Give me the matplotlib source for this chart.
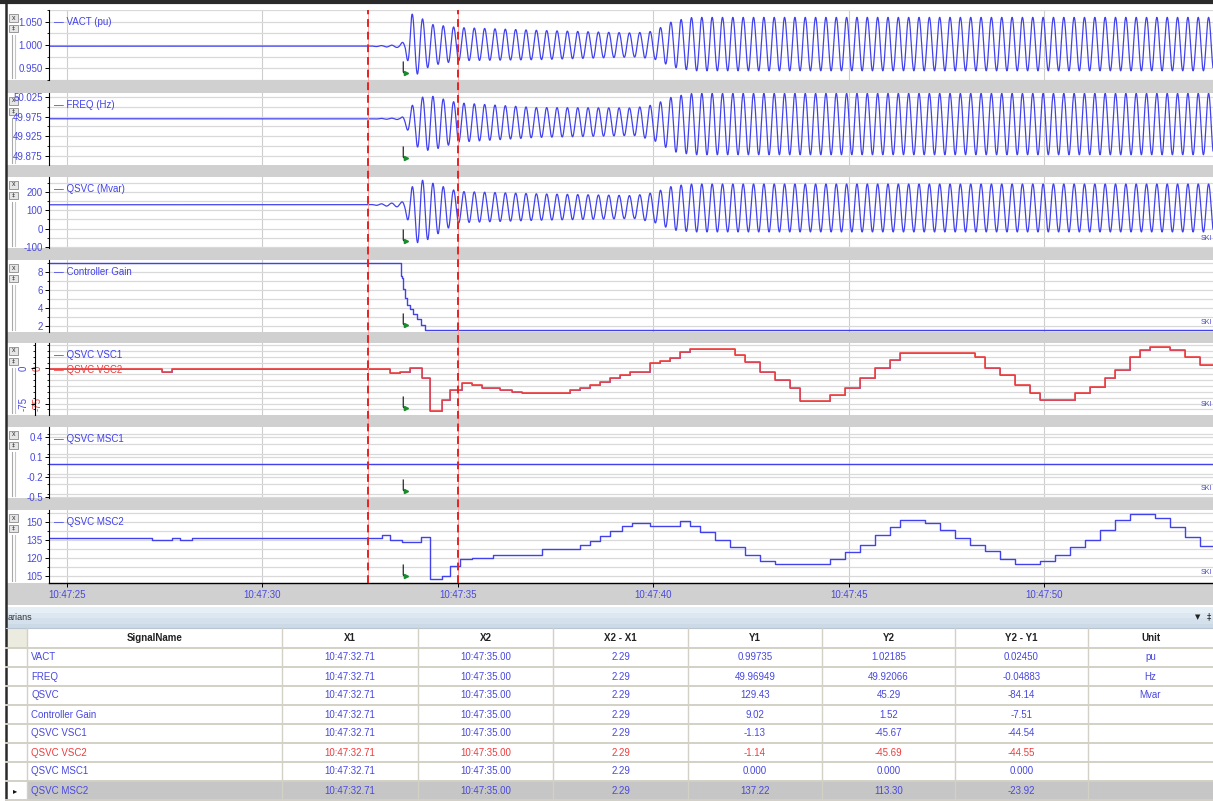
import numpy as np
import matplotlib.pyplot as plt
from matplotlib.patches import Rectangle
from matplotlib.ticker import FixedLocator, FuncFormatter, MultipleLocator

plt.rcParams['font.family'] = ['Liberation Sans Narrow', 'Liberation Sans', 'DejaVu Sans']

W, H = 1213, 801
BLUE = '#4141ee'
RED = '#ee3c3c'
TXT_BLUE = '#4848e0'
GRID = '#d9d9d9'
BAND = '#d0d0d0'

# time axis, seconds after 10:47:00
T_LO, T_HI = 24.54, 54.31
X1_T, X2_T = 32.71, 35.00
TRIGGER_T = 33.60
TIME_TICKS = [25, 30, 35, 40, 45, 50]

# oscillating channels: envelope knots (mid level and half swing)
OSC_PERIOD = 0.2645
OSC_START = 33.50
OSC_T = [24.5, 32.7, 33.50, 33.65, 33.80, 34.00, 34.30, 35.00, 37.00, 39.50, 40.00, 40.50, 41.00, 54.40]
VACT_MID = [0.9974, 0.9974, 0.9974, 0.999, 1.0, 1.0, 1.0, 1.002, 1.0, 1.0, 1.0, 1.002, 1.002, 1.002]
VACT_AMP = [0, 0, 0.003, 0.012, 0.068, 0.062, 0.045, 0.036, 0.032, 0.026, 0.030, 0.050, 0.058, 0.058]
FREQ_MID = [49.9695, 49.9695, 49.9695, 49.965, 49.960, 49.958, 49.958, 49.960, 49.960, 49.962, 49.960, 49.956, 49.956, 49.956]
FREQ_AMP = [0, 0, 0.002, 0.012, 0.040, 0.065, 0.070, 0.050, 0.038, 0.035, 0.045, 0.070, 0.078, 0.078]
QSVC_MID = [129.4, 129.4, 129.4, 120, 100, 90, 100, 117, 117, 117, 115, 112, 112, 112]
QSVC_AMP = [0, 0, 12, 30, 120, 178, 150, 85, 72, 62, 80, 120, 130, 130]

# stepped channels
GAIN_T = [24.5, 33.53, 33.56, 33.60, 33.64, 33.70, 33.77, 33.84, 33.94, 34.05, 34.16, 54.4]
GAIN_V = [9.02, 7.6, 7.4, 6.1, 5.06, 4.27, 3.88, 3.3, 2.7, 2.1, 1.52, 1.52]

VSC_T = [24.5, 27.43, 27.69, 33.26, 33.52, 33.77, 34.07, 34.28, 34.58, 34.80, 35.09, 35.35,
         35.61, 36.07, 36.37, 36.63, 37.86, 38.12, 38.38, 38.63, 38.89, 39.14, 39.40, 39.65,
         39.91, 40.17, 40.42, 40.68, 40.93, 42.08, 42.34, 42.72, 43.11, 43.49, 43.75, 44.51,
         44.90, 45.28, 45.66, 46.05, 46.30, 48.22, 48.48, 48.86, 49.25, 49.63, 49.88, 50.78,
         51.16, 51.55, 51.80, 52.19, 52.44, 52.70, 53.21, 53.59, 53.98, 54.4]
VSC2_V = [-1.14, -8, -1.14, -10, -7, 0, -20, -92, -67, -45.69, -30, -35,
          -41, -46, -50, -52, -46, -41, -35, -28, -21, -14, -8, -7,
          11, 16, 22, 36, 41, 29, 14, -7.5, -25, -42, -70, -57,
          -42, -20, 1, 18, 34, 25, 1, -14, -35, -52, -67, -52,
          -40, -20, -3, 25, 40, 46, 40, 25, 7, 7]
VSC1_V = [-1.13, -8, -1.13, -10, -7, 0, -20, -92, -67, -45.67, -30, -35,
          -41, -46, -50, -52, -46, -41, -35, -28, -21, -14, -8, -7,
          11, 16, 22, 36, 41, 29, 14, -7.5, -25, -42, -70, -57,
          -42, -20, 1, 18, 34, 25, 1, -14, -35, -52, -67, -52,
          -40, -20, -3, 25, 40, 46, 40, 25, 7, 7]

MSC1_T = [24.5, 54.4]
MSC1_V = [0.0, 0.0]

MSC2_T = [24.5, 27.17, 27.69, 27.89, 28.20, 33.05, 33.26, 33.56, 34.05, 34.28, 34.58, 34.80,
          35.05, 35.35, 35.90, 37.14, 37.43, 38.12, 38.38, 38.63, 38.89, 39.19, 39.44, 39.91,
          40.68, 40.93, 41.19, 41.57, 41.96, 42.34, 42.72, 43.11, 44.51, 44.90, 45.28, 45.66,
          46.05, 46.30, 46.94, 47.33, 47.71, 48.09, 48.48, 48.86, 49.25, 49.88, 50.27, 50.65,
          51.04, 51.42, 51.80, 52.19, 52.83, 53.21, 53.59, 53.98, 54.4]
MSC2_V = [137.22, 135.5, 137.22, 135.5, 137.22, 139.1, 135.5, 133.6, 137.4, 102.5, 105.2, 113.30,
          119, 120.4, 122.3, 127.3, 127.8, 131.4, 134.7, 138.3, 142.4, 146.5, 149.3, 146.5,
          150.7, 146.5, 142, 135.5, 129, 122.3, 117.4, 115, 119, 124.8, 131.4, 139.7,
          146.3, 152, 149.6, 143.8, 137.2, 131.4, 125.6, 119, 115, 117.4, 123, 129,
          135.5, 143.8, 152, 157, 153.7, 146.3, 138, 129.8, 129.8]

# cursor table
SIGNALS = ['VACT', 'FREQ', 'QSVC', 'Controller Gain', 'QSVC VSC1', 'QSVC VSC2', 'QSVC MSC1', 'QSVC MSC2']
Y1_TXT = ['0.99735', '49.96949', '129.43', '9.02', '-1.13', '-1.14', '0.000', '137.22']
Y2_TXT = ['1.02185', '49.92066', '45.29', '1.52', '-45.67', '-45.69', '0.000', '113.30']
DY_TXT = ['0.02450', '-0.04883', '-84.14', '-7.51', '-44.54', '-44.55', '0.000', '-23.92']
UNITS = ['pu', 'Hz', 'Mvar', '', '', '', '', '']
HEADERS = ['SignalName', 'X1', 'X2', 'X2 - X1', 'Y1', 'Y2', 'Y2 - Y1', 'Unit']
COL_EDGES = [27, 282, 418, 553, 688, 822, 955, 1088, 1213]

PANELS = [(10, 80), (93, 165), (177, 248), (260, 332), (343, 415), (427, 498), (510, 583)]
PLOT_L, PLOT_R = 49, 1213


def frac(x0, y0, x1, y1):
    return [x0 / W, 1 - y1 / H, (x1 - x0) / W, (y1 - y0) / H]


def clock(v, _=None):
    m, s = divmod(v, 60)
    return f'10:{47 + int(m):02d}:{s:05.2f}' if _ is None else f'10:47:{v:02.0f}'


fig = plt.figure(figsize=(W / 100, H / 100), dpi=100)

# background in pixel units
bg = fig.add_axes([0, 0, 1, 1])
bg.set_xlim(0, W)
bg.set_ylim(H, 0)
bg.axis('off')
bg.set_zorder(0)

for (top, bot), nxt in zip(PANELS, [p[0] for p in PANELS[1:]] + [605]):
    bg.add_patch(Rectangle((6, bot), W, nxt - bot, fc=BAND, ec='none'))
    # panel controls on the left strip
    bg.add_patch(Rectangle((9, top + 4), 9, 8, fc='#e6e6e6', ec='#8a8a8a', lw=0.6))
    bg.text(13.5, top + 8, 'x', fontsize=5, ha='center', va='center', color='#333')
    bg.add_patch(Rectangle((9, top + 15), 9, 7, fc='#e6e6e6', ec='#8a8a8a', lw=0.6))
    bg.text(13.5, top + 18.5, '‡', fontsize=4.5, ha='center', va='center', color='#333',
            family='DejaVu Sans')
    bg.plot([12, 12], [top + 25, bot - 2], color='#a8a8a8', lw=0.8)
    bg.plot([15, 15], [top + 25, bot - 2], color='#c4c4c4', lw=0.8)

bg.plot([0, W], [2, 2], color='#2a2a2a', lw=3)
bg.plot([6, 6], [0, H], color='#2a2a2a', lw=1.8)

# header bar of the cursor table
for k, c in enumerate(['#e6eef6', '#dde7f1', '#d4e0ec', '#ccd9e7']):
    bg.add_patch(Rectangle((6, 607 + k * 5.5), W, 5.6, fc=c, ec='none'))
bg.plot([6, W], [628, 628], color='#b8c4d0', lw=0.8)
bg.text(8, 617, 'arians', fontsize=6.5, va='center', color='#333')
bg.text(1198, 617, '▼', fontsize=5, va='center', ha='center', color='#222', family='DejaVu Sans')
bg.text(1209, 617, '‡', fontsize=6, va='center', ha='center', color='#222', family='DejaVu Sans')

# cursor table
bg.add_patch(Rectangle((6, 628), 21, 20, fc='#ecebdf', ec='none'))
bg.add_patch(Rectangle((27, 781), W - 27, 20, fc='#c6c6c6', ec='none'))
for k in range(9):
    yl = 648 + k * 19
    bg.plot([6, W], [yl, yl], color='#d3d0c6', lw=1.4)
for xe in COL_EDGES[:-1]:
    bg.plot([xe, xe], [628, H], color='#d3d0c6', lw=1.0)
for j, head in enumerate(HEADERS):
    xc = (COL_EDGES[j] + COL_EDGES[j + 1]) / 2
    bg.text(xc, 638, head, fontsize=7, ha='center', va='center', color='#222', weight='bold')
bg.text(15, 790.5, '▸', fontsize=6, ha='center', va='center', color='#111', family='DejaVu Sans')

for i, name in enumerate(SIGNALS):
    yc = 657.5 + i * 19
    col = RED if name == 'QSVC VSC2' else TXT_BLUE
    cells = [clock(X1_T), clock(X2_T), f'{X2_T - X1_T:.2f}', Y1_TXT[i], Y2_TXT[i], DY_TXT[i], UNITS[i]]
    bg.text(31, yc, name, fontsize=7, ha='left', va='center', color=col)
    for j, cell in enumerate(cells, start=1):
        xc = (COL_EDGES[j] + COL_EDGES[j + 1]) / 2
        bg.text(xc, yc, cell, fontsize=7, ha='center', va='center', color=col)

# signals
t = np.arange(T_LO, T_HI, 0.004)
wave = np.sin(2 * np.pi * (t - OSC_START) / OSC_PERIOD)


def osc(mid, amp):
    return np.interp(t, OSC_T, mid) + np.interp(t, OSC_T, amp) * wave


specs = [
    dict(ylim=(0.924, 1.076), ticks=[0.95, 1.0, 1.05], minor=0.025, fmt='{:.3f}'),
    dict(ylim=(49.852, 50.035), ticks=[49.875, 49.925, 49.975, 50.025], minor=0.025, fmt='{:.3f}'),
    dict(ylim=(-105, 280), ticks=[-100, 0, 100, 200], minor=50, fmt='{:.0f}'),
    dict(ylim=(1.30, 9.36), ticks=[2, 4, 6, 8], minor=1, fmt='{:.0f}'),
    dict(ylim=(-99.6, 54.6), ticks=[-75, 0], minor=12.5, fmt='{:.0f}'),
    dict(ylim=(-0.515, 0.55), ticks=[-0.5, -0.2, 0.1, 0.4], minor=0.15, fmt='{:.1f}'),
    dict(ylim=(99.2, 160.3), ticks=[105, 120, 135, 150], minor=7.5, fmt='{:.0f}'),
]

axes = []
for k, ((top, bot), sp) in enumerate(zip(PANELS, specs)):
    ax = fig.add_axes(frac(PLOT_L, top, PLOT_R, bot))
    ax.set_zorder(1)
    ax.set_xlim(T_LO, T_HI)
    ax.set_ylim(*sp['ylim'])
    for side in ('top', 'right', 'bottom'):
        ax.spines[side].set_visible(False)
    ax.spines['left'].set_linewidth(0.8)
    ax.yaxis.set_major_locator(FixedLocator(sp['ticks']))
    ax.yaxis.set_minor_locator(MultipleLocator(sp['minor']))
    ax.yaxis.set_major_formatter(FuncFormatter(lambda v, _, f=sp['fmt']: f.format(v)))
    ax.tick_params(axis='y', which='major', length=3, width=0.7, labelsize=7,
                   labelcolor=TXT_BLUE, pad=1.5)
    ax.tick_params(axis='y', which='minor', length=1.8, width=0.6)
    ax.set_xticks(TIME_TICKS)
    ax.tick_params(axis='x', length=0, labelbottom=False)
    ax.grid(axis='y', which='both', color=GRID, lw=0.9)
    ax.grid(axis='x', which='major', color='#cdcdcd', lw=0.8)
    ax.set_axisbelow(True)
    axes.append(ax)

ax_vact, ax_freq, ax_qsvc, ax_gain, ax_vsc, ax_msc1, ax_msc2 = axes

ax_vact.plot(t, osc(VACT_MID, VACT_AMP), color=BLUE, lw=0.9)
ax_freq.plot(t, osc(FREQ_MID, FREQ_AMP), color=BLUE, lw=0.9)
ax_qsvc.plot(t, osc(QSVC_MID, QSVC_AMP), color=BLUE, lw=0.9)
ax_gain.step(GAIN_T, GAIN_V, where='post', color=BLUE, lw=1.0)
ax_vsc.step(VSC_T, VSC1_V, where='post', color=BLUE, lw=0.5)
ax_vsc.step(VSC_T, VSC2_V, where='post', color=RED, lw=1.2)
ax_msc1.step(MSC1_T, MSC1_V, where='post', color=BLUE, lw=1.0)
ax_msc2.step(MSC2_T, MSC2_V, where='post', color=BLUE, lw=1.0)

# two stacked scales on the VSC panel: red inner, blue outer
ax_vsc.tick_params(axis='y', which='major', labelcolor=RED, labelrotation=90, pad=1.5)
for lab in ax_vsc.get_yticklabels():
    lab.set_va('center')
vsc_blue = fig.add_axes(frac(PLOT_L, PANELS[4][0], PLOT_R, PANELS[4][1]), facecolor='none')
vsc_blue.set_zorder(2)
vsc_blue.set_xlim(T_LO, T_HI)
vsc_blue.set_ylim(*specs[4]['ylim'])
for side in ('top', 'right', 'bottom'):
    vsc_blue.spines[side].set_visible(False)
vsc_blue.spines['left'].set_position(('outward', 10))
vsc_blue.spines['left'].set_linewidth(0.8)
vsc_blue.set_xticks([])
vsc_blue.yaxis.set_major_locator(FixedLocator([-75, 0]))
vsc_blue.yaxis.set_minor_locator(MultipleLocator(12.5))
vsc_blue.yaxis.set_major_formatter(FuncFormatter(lambda v, _: f'{v:.0f}'))
vsc_blue.tick_params(axis='y', which='major', length=3, width=0.7, labelsize=7,
                     labelcolor=TXT_BLUE, labelrotation=90, pad=1.8)
vsc_blue.tick_params(axis='y', which='minor', length=1.8, width=0.6)
for lab in vsc_blue.get_yticklabels():
    lab.set_va('center')

# time axis on the last panel
ax_msc2.spines['bottom'].set_visible(True)
ax_msc2.spines['bottom'].set_linewidth(1.0)
ax_msc2.xaxis.set_major_formatter(FuncFormatter(clock))
ax_msc2.tick_params(axis='x', length=3, width=0.7, labelbottom=True, labelsize=7,
                    labelcolor=TXT_BLUE, pad=2)

# channel labels
legend_rows = [('VACT (pu)', BLUE, 0), ('FREQ (Hz)', BLUE, 1), ('QSVC (Mvar)', BLUE, 2),
               ('Controller Gain', BLUE, 3), ('QSVC VSC1', BLUE, 4), ('QSVC VSC2', RED, 4),
               ('QSVC MSC1', BLUE, 5), ('QSVC MSC2', BLUE, 6)]
seen = {}
for text, col, p in legend_rows:
    off = seen.get(p, 0)
    seen[p] = off + 15
    y = PANELS[p][0] + 12 + off
    fig.text(54 / W, 1 - y / H, '— ' + text, fontsize=7, color=col, va='center', zorder=5)

for p in range(2, 7):
    fig.text(1201 / W, 1 - (PANELS[p][1] - 10) / H, 'SKI', fontsize=5, color=TXT_BLUE,
             va='center', zorder=5)

# cursors and trigger marks over all panels
ov = fig.add_axes(frac(PLOT_L, PANELS[0][0], PLOT_R, PANELS[-1][1]), facecolor='none')
ov.set_zorder(3)
ov.set_xlim(T_LO, T_HI)
ov.set_ylim(PANELS[-1][1], PANELS[0][0])
ov.axis('off')
for xc in (X1_T, X2_T):
    ov.axvline(xc, color='#ff9a9a', lw=0.6)
    ov.axvline(xc, color='#e62222', lw=1.4, linestyle=(0, (4, 2.5)))
for top, bot in PANELS:
    ov.plot([TRIGGER_T, TRIGGER_T, TRIGGER_T + 0.05], [bot - 18, bot - 8, bot - 6],
            color='#111', lw=0.8)
    ov.plot(TRIGGER_T + 0.07, bot - 7, marker='>', color='#1a8a2a', ms=3)

fig.savefig('out.png', dpi=100)
